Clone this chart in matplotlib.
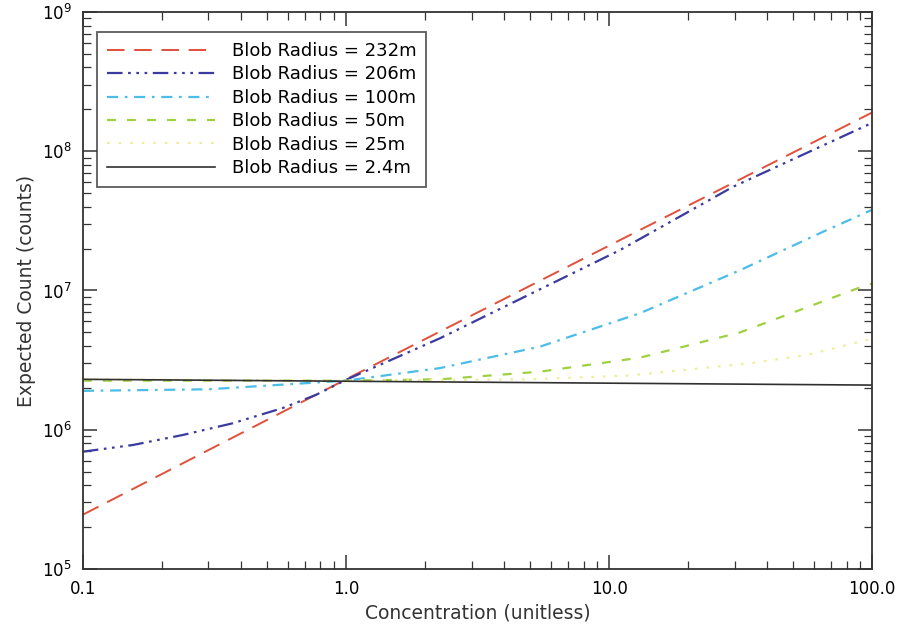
import numpy as np
import matplotlib
matplotlib.use('Agg')
import matplotlib.pyplot as plt
from matplotlib.ticker import FixedLocator, LogLocator, NullFormatter

# значения (лог-лог)
x_232 = [0.1, 1.0, 10.0, 100.0]
y_232 = [2.45e5, 2.3e6, 2.1e7, 1.9e8]

x_206 = [0.1, 0.155, 0.24, 0.37, 0.575, 0.77, 1.0, 2.28, 11.0, 29.6, 100.0]
y_206 = [6.95e5, 7.76e5, 9.16e5, 1.11e6, 1.43e6, 1.78e6, 2.28e6, 4.54e6, 1.95e7, 5.56e7, 1.6e8]

x_100 = [0.1, 0.3, 1.0, 2.28, 5.47, 13.1, 31.5, 65.0, 100.0]
y_100 = [1.9e6, 1.95e6, 2.25e6, 2.77e6, 3.95e6, 6.86e6, 1.40e7, 2.64e7, 3.8e7]

x_50 = [0.1, 1.0, 2.28, 5.47, 13.1, 31.5, 88.5, 100.0]
y_50 = [2.25e6, 2.25e6, 2.3e6, 2.61e6, 3.29e6, 5.0e6, 1.04e7, 1.12e7]

x_25 = [0.1, 1.0, 5.0, 12.0, 34.4, 56.6, 90.0, 100.0]
y_25 = [2.3e6, 2.25e6, 2.3e6, 2.45e6, 3.0e6, 3.44e6, 4.29e6, 4.5e6]

x_24 = [0.1, 100.0]
y_24 = [2.3e6, 2.09e6]

labels = ['Blob Radius = 232m', 'Blob Radius = 206m', 'Blob Radius = 100m',
          'Blob Radius = 50m', 'Blob Radius = 25m', 'Blob Radius = 2.4m']

fig = plt.figure(figsize=(9.01, 6.37), dpi=100)
ax = fig.add_axes([0.092, 0.107, 0.876, 0.874])

ax.plot(x_232, y_232, color='#e0503a', lw=1.4, dashes=(9, 5), label=labels[0])
ax.plot(x_206, y_206, color='#3a3aa0', lw=1.6, dashes=(7, 2.5, 1.2, 2.5, 1.2, 2.5, 1.2, 2.5), label=labels[1])
ax.plot(x_100, y_100, color='#4cbde8', lw=1.6, dashes=(5, 3, 1.2, 3), label=labels[2])
ax.plot(x_50, y_50, color='#a0d040', lw=1.6, dashes=(4, 5), label=labels[3])
ax.plot(x_25, y_25, color='#eeee9a', lw=1.6, dashes=(1.2, 4), label=labels[4])
ax.plot(x_24, y_24, color='#303030', lw=1.2, label=labels[5])

ax.set_xscale('log')
ax.set_yscale('log')
ax.set_xlim(0.1, 100)
ax.set_ylim(1e5, 1e9)

ax.xaxis.set_major_locator(FixedLocator([0.1, 1, 10, 100]))
ax.set_xticklabels(['0.1', '1.0', '10.0', '100.0'])
ax.xaxis.set_minor_locator(LogLocator(base=10, subs=np.arange(2, 10)))
ax.xaxis.set_minor_formatter(NullFormatter())
ax.yaxis.set_major_locator(FixedLocator([1e5, 1e6, 1e7, 1e8, 1e9]))
ax.set_yticklabels(['$10^5$', '$10^6$', '$10^7$', '$10^8$', '$10^9$'])
ax.yaxis.set_minor_locator(LogLocator(base=10, subs=np.arange(2, 10)))
ax.yaxis.set_minor_formatter(NullFormatter())

ax.tick_params(which='both', direction='in', top=True, right=True, labelsize=12, color='#333333')
ax.tick_params(which='major', length=10, width=1.1, pad=8)
ax.tick_params(which='minor', length=6, width=0.9)
for s in ax.spines.values():
    s.set_linewidth(1.3)
    s.set_color('#333333')

ax.set_xlabel('Concentration (unitless)', fontsize=13.5, color='#333333')
ax.set_ylabel('Expected Count (counts)', fontsize=13.5, color='#333333')

leg = ax.legend(loc='upper left', bbox_to_anchor=(0.018, 0.964), borderaxespad=0, fontsize=13,
                handlelength=6.0, frameon=True, fancybox=False, edgecolor='#333333',
                borderpad=0.55, labelspacing=0.3, handletextpad=0.9)
leg.get_frame().set_linewidth(1.3)

fig.savefig('out.png', dpi=100)
